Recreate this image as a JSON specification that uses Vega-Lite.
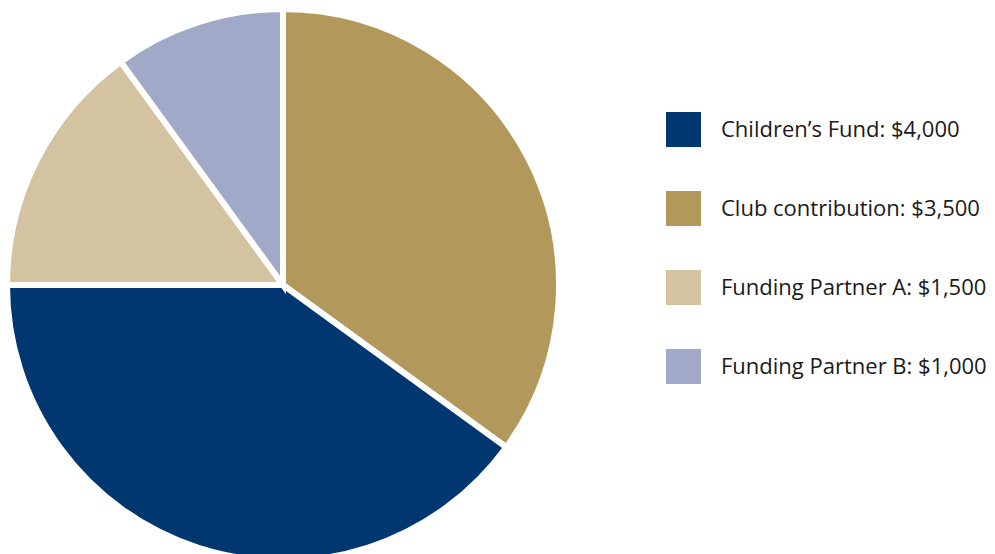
{
  "$schema": "https://vega.github.io/schema/vega-lite/v6.json",
  "autosize": {"type": "none"},
  "padding": {"left": 0, "top": 0, "right": 429, "bottom": 0},
  "width": 566,
  "height": 570,
  "background": "white",
  "view": {"stroke": null},
  "data": {"values": [
    {"label": "Club contribution: $3,500", "amount": 3500, "ord": 1},
    {"label": "Children’s Fund: $4,000", "amount": 4000, "ord": 2},
    {"label": "Funding Partner A: $1,500", "amount": 1500, "ord": 3},
    {"label": "Funding Partner B: $1,000", "amount": 1000, "ord": 4}
  ]},
  "mark": {"type": "arc", "radius": 276, "stroke": "white", "strokeWidth": 6},
  "encoding": {
    "theta": {"field": "amount", "type": "quantitative", "stack": true},
    "order": {"field": "ord", "type": "quantitative"},
    "color": {
      "field": "label", "type": "nominal",
      "scale": {
        "domain": ["Children’s Fund: $4,000", "Club contribution: $3,500", "Funding Partner A: $1,500", "Funding Partner B: $1,000"],
        "range": ["#003770", "#B3985C", "#D3C3A0", "#A0A9C8"]
      },
      "legend": {
        "title": null,
        "orient": "none",
        "legendX": 666,
        "legendY": 112,
        "padding": 0,
        "symbolType": "square",
        "symbolSize": 1225,
        "symbolStrokeWidth": 0,
        "symbolOpacity": 1,
        "labelFont": "Open Sans",
        "labelFontSize": 22,
        "labelColor": "#1a1a1a",
        "labelOffset": 20,
        "labelLimit": 400,
        "rowPadding": 44
      }
    }
  }
}
